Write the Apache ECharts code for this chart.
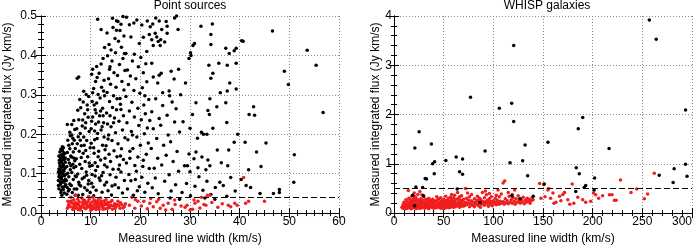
<!DOCTYPE html>
<html>
<head>
<meta charset="utf-8">
<script src="https://cdn.jsdelivr.net/npm/echarts@6/dist/echarts.min.js"></script>
<style>
  html, body { margin: 0; padding: 0; background: #fff; }
  #container { width: 696px; height: 250px; }
</style>
</head>
<body>
<div id="container"></div>
<script>
// limits of the two panels
var pointXMax = 60, pointYMax = 0.5, pointCut = 0.04;
var whispXMax = 300, whispYMax = 4, whispCut = 0.5;

// Point sources, above the cut (black)
var pointAbove = [
  [3.6,0.062],[3.8,0.071],[3.5,0.083],[3.9,0.090],[3.7,0.098],[4.0,0.105],[3.6,0.112],[3.8,0.120],[4.1,0.127],[3.7,0.134],
  [3.9,0.141],[4.2,0.148],[3.8,0.155],[4.0,0.162],[4.3,0.168],[4.1,0.058],[4.3,0.066],[4.0,0.075],[4.4,0.082],[4.2,0.093],
  [3.9,0.101],[4.4,0.109],[4.1,0.116],[4.5,0.123],[4.2,0.131],[4.4,0.138],[4.0,0.146],[4.6,0.153],[4.3,0.159],[4.5,0.166],
  [4.7,0.051],[4.5,0.060],[4.8,0.068],[4.6,0.078],[4.9,0.086],[4.7,0.095],[4.4,0.100],[4.8,0.113],[4.6,0.119],[4.9,0.129],
  [4.7,0.136],[4.5,0.144],[4.8,0.151],[3.5,0.070],[3.6,0.092],[3.5,0.104],[3.7,0.127],[3.6,0.145],[4.0,0.052],[4.2,0.045],
  [3.8,0.110],[4.3,0.118],[4.0,0.133],[4.1,0.087],[4.6,0.106],[5.0,0.072],[5.0,0.098],[4.9,0.140],[3.9,0.079],[4.2,0.140],
  [5.2,0.048],[5.5,0.056],[5.3,0.065],[5.8,0.074],[5.1,0.083],[5.6,0.092],[5.4,0.101],[5.9,0.110],[5.2,0.118],[5.7,0.127],
  [5.5,0.136],[6.0,0.145],[5.3,0.154],[5.8,0.163],[5.6,0.172],[5.4,0.185],[5.9,0.196],[5.3,0.225],[5.8,0.205],[6.2,0.225],
  [6.6,0.235],[6.3,0.052],[6.7,0.061],[6.1,0.070],[6.5,0.085],[6.9,0.094],[6.2,0.103],[6.6,0.115],[6.4,0.124],[6.8,0.133],
  [6.1,0.142],[6.5,0.155],[6.9,0.164],[6.3,0.176],[6.7,0.185],[6.2,0.198],[6.8,0.212],[6.4,0.190],[6.0,0.120],[5.7,0.060],
  [6.9,0.045],[6.6,0.140],
  [7.3,0.342],[7.6,0.345],[8.4,0.047],[7.2,0.061],[9.3,0.058],[8.0,0.069],[7.6,0.078],[9.6,0.083],[8.7,0.091],[7.4,0.099],
  [9.1,0.104],[8.2,0.113],[9.8,0.119],[7.8,0.124],[8.9,0.131],[7.1,0.138],[9.4,0.143],[8.5,0.152],[7.7,0.157],[9.9,0.166],
  [8.1,0.171],[7.3,0.176],[9.2,0.184],[8.6,0.193],[7.9,0.202],[9.7,0.207],[7.2,0.214],[8.3,0.221],[9.0,0.229],[7.6,0.237],
  [9.5,0.243],[8.8,0.252],[7.4,0.261],[8.0,0.267],[9.3,0.274],[8.5,0.282],[7.8,0.288],[9.6,0.296],[8.6,0.309],[9.1,0.301],
  [7.0,0.118],[8.3,0.087],[9.9,0.052],[7.5,0.045],[8.8,0.064],[9.0,0.159],[7.9,0.185],[8.4,0.236],[9.7,0.127],[7.1,0.092],
  [8.9,0.216],[9.4,0.262],[7.5,0.194],[8.1,0.141],[9.5,0.074],[7.7,0.072],[8.7,0.172],[9.2,0.096],
  [10.6,0.044],[12.3,0.053],[11.1,0.058],[12.8,0.071],[10.2,0.076],[11.7,0.089],[10.9,0.094],[12.5,0.103],[11.4,0.118],[10.3,0.121],
  [12.0,0.135],[12.9,0.139],[10.7,0.152],[11.6,0.157],[12.4,0.172],[10.1,0.177],[11.3,0.189],[12.7,0.193],[10.8,0.208],[12.1,0.211],
  [11.0,0.226],[12.6,0.229],[10.4,0.244],[11.8,0.247],[10.9,0.262],[12.4,0.266],[11.2,0.279],[10.3,0.283],[12.8,0.298],[11.5,0.301],
  [10.6,0.316],[12.2,0.319],[11.0,0.334],[12.7,0.337],[10.2,0.352],[11.7,0.355],[10.4,0.365],[11.2,0.372],[12.1,0.378],[12.5,0.392],
  [12.8,0.420],[11.4,0.492],[12.1,0.466],[11.9,0.083],[10.5,0.066],[12.2,0.095],[10.9,0.128],[11.5,0.143],[12.9,0.161],[10.6,0.166],
  [11.4,0.202],[12.3,0.219],[10.2,0.233],[11.1,0.254],[12.0,0.259],[10.7,0.274],[11.9,0.292],[10.4,0.305],[12.6,0.310],[11.3,0.344],
  [10.8,0.186],[12.5,0.247],[11.6,0.231],[10.1,0.214],[12.8,0.122],[11.0,0.108],[10.3,0.098],
  [14.2,0.046],[16.4,0.051],[13.5,0.057],[15.6,0.064],[14.9,0.072],[13.2,0.078],[16.8,0.083],[15.1,0.091],[13.9,0.097],[16.1,0.104],
  [14.5,0.111],[13.3,0.117],[15.8,0.122],[14.0,0.131],[16.6,0.136],[15.3,0.143],[13.7,0.149],[14.7,0.158],[16.2,0.163],[13.1,0.171],
  [15.5,0.176],[14.3,0.184],[16.9,0.191],[13.6,0.198],[15.0,0.204],[16.4,0.211],[14.1,0.219],[13.4,0.226],[15.7,0.233],[14.8,0.241],
  [16.6,0.247],[13.2,0.254],[15.2,0.262],[14.4,0.268],[16.0,0.276],[13.8,0.283],[15.9,0.291],[14.6,0.298],[13.3,0.306],[16.7,0.312],
  [15.1,0.319],[14.0,0.327],[16.3,0.334],[13.6,0.341],[15.4,0.349],[14.7,0.356],[16.9,0.362],[13.9,0.371],[15.8,0.377],[14.3,0.386],
  [16.5,0.392],[13.4,0.399],[15.0,0.407],[14.1,0.414],[16.2,0.421],[13.7,0.428],[15.6,0.436],[14.9,0.443],[16.7,0.449],[13.3,0.457],
  [15.2,0.464],[14.5,0.471],[16.1,0.479],[15.5,0.486],[14.4,0.494],[16.5,0.499],[15.9,0.463],[15.2,0.488],[16.0,0.145],[13.5,0.188],
  [14.6,0.229],[16.1,0.263],[13.9,0.247],[15.6,0.111],[14.3,0.069],[13.8,0.365],[16.8,0.405],[15.3,0.290],
  [18.6,0.045],[20.9,0.053],[17.4,0.061],[19.8,0.067],[21.5,0.076],[18.1,0.082],[20.3,0.091],[17.7,0.098],[19.2,0.106],[21.8,0.113],
  [18.9,0.121],[17.2,0.127],[20.6,0.134],[19.5,0.142],[21.2,0.149],[17.9,0.157],[18.5,0.164],[20.0,0.172],[21.6,0.178],[17.5,0.186],
  [19.3,0.193],[20.8,0.201],[18.2,0.207],[21.4,0.216],[19.7,0.222],[17.3,0.229],[20.2,0.237],[18.8,0.244],[21.0,0.252],[17.8,0.259],
  [19.5,0.266],[20.7,0.274],[18.3,0.281],[21.7,0.288],[17.1,0.296],[19.9,0.304],[18.7,0.311],[20.4,0.318],[17.6,0.326],[21.3,0.333],
  [19.1,0.341],[18.0,0.348],[20.6,0.356],[17.4,0.363],[19.6,0.371],[21.1,0.379],[18.4,0.386],[20.1,0.395],[17.1,0.405],[18.8,0.403],
  [19.8,0.430],[20.6,0.446],[21.8,0.453],[17.8,0.478],[18.7,0.482],[19.3,0.490],[20.3,0.477],[21.4,0.487],[18.1,0.447],[17.2,0.497],
  [21.3,0.410],[19.0,0.085],[20.5,0.118],[18.4,0.198],[21.9,0.235],[19.4,0.057],[17.9,0.139],[20.9,0.298],
  [23.6,0.049],[26.2,0.056],[22.4,0.064],[27.1,0.072],[24.9,0.081],[23.0,0.089],[25.8,0.097],[27.7,0.106],[22.8,0.114],[24.3,0.122],
  [26.6,0.131],[23.5,0.139],[25.2,0.147],[27.4,0.156],[22.2,0.164],[24.7,0.172],[26.1,0.181],[23.3,0.189],[25.6,0.198],[27.9,0.206],
  [22.6,0.214],[24.1,0.223],[26.9,0.231],[23.8,0.240],[25.4,0.248],[22.3,0.257],[27.2,0.265],[24.5,0.273],[26.4,0.282],[23.1,0.290],
  [25.9,0.298],[28.1,0.300],[22.6,0.345],[23.5,0.330],[24.5,0.305],[25.8,0.310],[26.2,0.360],[26.8,0.340],[27.7,0.365],[22.3,0.380],
  [23.8,0.350],[24.2,0.355],
  [22.0,0.473],[22.5,0.480],[23.1,0.495],[23.8,0.487],[24.3,0.466],[25.2,0.486],[25.4,0.474],[26.9,0.495],[27.3,0.500],[27.6,0.466],
  [22.3,0.440],[22.6,0.425],[23.0,0.456],[23.3,0.447],[23.6,0.435],[24.0,0.425],[24.1,0.440],[25.4,0.456],[24.9,0.434],[27.9,0.035],
  [26.0,0.038],
  [28.4,0.052],[29.3,0.075],[30.1,0.044],[31.0,0.068],[31.8,0.092],[32.6,0.058],[33.4,0.081],[34.2,0.047],[35.1,0.065],[36.0,0.078],
  [36.7,0.070],[37.4,0.043],[38.2,0.090],[39.1,0.056],[40.3,0.085],[41.3,0.070],[28.9,0.120],[29.5,0.120],[30.0,0.105],[30.8,0.138],
  [31.6,0.115],[32.4,0.142],[33.2,0.110],[33.6,0.135],[34.0,0.120],[35.5,0.160],[36.3,0.128],[37.6,0.120],[37.8,0.160],[38.9,0.180],
  [41.1,0.180],[41.8,0.110],[29.8,0.150],[31.2,0.155],[32.7,0.200],[34.6,0.215],[33.4,0.200],[32.3,0.205],[30.0,0.215],[28.6,0.232],
  [37.4,0.230],[39.6,0.200],[30.5,0.250],[33.6,0.260],[33.9,0.250],[35.4,0.270],[37.2,0.280],[31.2,0.280],[34.0,0.290],[36.1,0.305],
  [37.5,0.310],[39.3,0.315],[33.8,0.375],[34.2,0.342],[34.6,0.355],[35.8,0.380],[37.5,0.375],[38.0,0.330],[29.8,0.392],[30.2,0.400],
  [30.6,0.425],[30.9,0.430],[30.1,0.407],[34.2,0.428],[37.2,0.418],[37.9,0.405],[38.9,0.412],[39.3,0.418],[39.3,0.380],[32.2,0.474],
  [34.5,0.480],[34.2,0.453],[40.4,0.437],[40.7,0.436],[29.1,0.330],[31.5,0.190],[35.0,0.035],[33.0,0.038],
  [41.9,0.250],[42.2,0.065],[42.8,0.270],[43.0,0.248],[43.4,0.155],[44.1,0.050],[44.3,0.118],[45.3,0.178],[46.6,0.462],[46.8,0.050],
  [48.0,0.060],[48.0,0.052],[49.0,0.360],[49.8,0.326],[50.9,0.078],[51.0,0.148],[53.6,0.413],[55.4,0.375],[56.8,0.255]
];

// Point sources, below the cut (red)
var pointBelow = [
  [5.3,0.012],[5.6,0.022],[5.9,0.016],[6.1,0.031],[6.4,0.009],[6.7,0.019],[6.9,0.027],[7.2,0.013],[7.4,0.035],[7.6,0.021],
  [7.9,0.008],[8.1,0.017],[8.3,0.026],[8.6,0.014],[8.8,0.032],[9.0,0.011],[9.3,0.020],[9.5,0.029],[9.8,0.015],[10.0,0.024],
  [10.2,0.009],[10.5,0.018],[10.7,0.033],[10.9,0.013],[11.2,0.022],[11.4,0.028],[11.7,0.010],[11.9,0.019],[12.2,0.025],[12.4,0.015],
  [12.7,0.031],[12.9,0.011],[13.2,0.021],[13.5,0.027],[13.8,0.014],[14.1,0.019],[14.4,0.010],[14.8,0.024],[15.1,0.016],[15.5,0.030],
  [15.9,0.012],[16.3,0.021],[16.8,0.017],[6.0,0.040],[7.0,0.045],[8.2,0.038],[9.6,0.042],[10.4,0.040],[12.0,0.038],[5.5,0.018],
  [6.3,0.025],[7.7,0.029],[8.9,0.023],[10.1,0.016],[11.0,0.027],[11.6,0.015],[12.6,0.020],[13.4,0.012],[14.6,0.018],[6.8,0.012],
  [7.3,0.024],[8.4,0.019],[9.2,0.027],[9.9,0.021],[10.6,0.012],[11.3,0.017],[12.1,0.030],[13.0,0.025],[14.0,0.028],[15.3,0.022],
  [16.0,0.026],[5.8,0.028],[6.5,0.015],[7.1,0.020],[8.0,0.013],[8.7,0.028],[9.4,0.016],[10.3,0.028],[10.8,0.022],[11.8,0.024],
  [12.5,0.010],[13.6,0.019],[14.3,0.032],[15.7,0.019],[16.5,0.013],[17.0,0.024],[7.8,0.016],[9.1,0.013],[10.9,0.031],[12.3,0.018],
  [8.5,0.034],[11.5,0.034],[6.6,0.034],[9.7,0.035],[13.1,0.034],[5.4,0.030],[14.9,0.012],[10.0,0.007],[7.5,0.009],[12.8,0.023],
  [11.1,0.009],
  [17.8,0.020],[18.3,0.040],[18.9,0.012],[19.5,0.030],[20.2,0.018],[20.7,0.030],[21.4,0.011],[21.9,0.025],[22.6,0.016],[23.3,0.029],
  [23.7,0.035],[24.0,0.012],[24.6,0.020],[25.1,0.008],[25.6,0.025],[26.4,0.010],[27.0,0.022],[28.2,0.018],[29.0,0.015],[29.4,0.020],
  [30.0,0.008],[30.5,0.010],[31.0,0.025],[31.6,0.030],[32.0,0.013],[32.3,0.040],[32.8,0.022],[33.2,0.020],[33.5,0.045],[34.0,0.045],
  [34.4,0.027],[35.6,0.015],[36.5,0.024],[37.7,0.020],[39.0,0.025],[39.5,0.020],[40.8,0.090],[41.2,0.025],[41.8,0.030],[45.0,0.030],
  [19.0,0.034],[22.1,0.037],[26.9,0.033],[30.8,0.033],[38.2,0.016]
];

// WHISP galaxies, above the cut (black)
var whispAbove = [
  [257,3.92],[264,3.53],[120.5,3.40],[77,2.35],[106,2.13],[118.5,2.23],[120.5,1.86],[25.3,1.65],[190,1.94],[185.5,1.71],
  [293.5,2.09],[21,1.32],[37.6,1.40],[91.7,1.26],[132,1.38],[155,1.44],[216.5,1.31],[116.8,1.02],[129.5,1.06],[134.5,0.76],
  [52.2,1.07],[62.6,1.14],[69,1.10],[38.9,1.00],[40.9,1.04],[40.5,0.80],[31.4,0.70],[32.8,0.69],[66,0.84],[69,0.79],
  [183.5,0.92],[186.5,0.80],[202,0.71],[281,0.62],[282,0.90],[293.5,0.99],[295,0.75],[267,0.77],[22,0.53],[28.8,0.52],
  [151.3,0.59],[191.5,0.52],[193,0.56],[201.5,0.47],[183,0.44],[118.8,0.35],[126.8,0.29],[140.2,0.34],[86.6,0.22],[20.8,0.15],
  [63.6,0.49],[29.7,0.35],[18.8,0.36]
];

// WHISP galaxies, below the cut (red)
var whispBelow = [
  [8,0.12],[9,0.10],[10,0.15],[10,0.22],[11,0.13],[12,0.18],[12,0.09],[13,0.25],[13,0.14],[14,0.11],
  [14,0.20],[14.4,0.46],[15,0.16],[15,0.30],[16,0.12],[16,0.23],[17,0.09],[17,0.18],[17,0.27],[18,0.14],
  [18,0.21],[18,0.34],[19,0.11],[19,0.16],[19,0.26],[20,0.19],[20,0.13],[20.4,0.41],[20,0.29],[11,0.20],
  [13,0.10],[15,0.22],[16,0.17],[18,0.10],[19,0.22],[9,0.17],[12,0.27],[10,0.11],
  [21,0.12],[21,0.24],[22,0.17],[22,0.09],[22,0.31],[23,0.14],[23,0.21],[24,0.11],[24,0.27],[24,0.38],
  [25,0.16],[25,0.20],[26,0.13],[26,0.24],[26,0.44],[27,0.10],[27,0.18],[27,0.29],[28,0.15],[28,0.22],
  [29,0.12],[29,0.26],[30,0.19],[30,0.14],[30,0.33],[31,0.10],[31,0.22],[32,0.17],[32,0.28],[33,0.13],
  [33,0.20],[34,0.24],[34,0.11],[35,0.16],[35,0.30],[36,0.21],[36,0.13],[37,0.18],[37,0.26],[38,0.12],
  [38,0.22],[39,0.15],[39,0.28],[40,0.19],[40,0.10],[21,0.33],[23,0.27],[25,0.10],[28,0.37],[31,0.15],
  [33,0.27],[35,0.09],[37,0.14],[39,0.21],[26,0.19],[29,0.18],[32,0.12],[34,0.19],[36,0.27],[38,0.17],
  [40,0.25],
  [41,0.14],[41,0.23],[42,0.18],[42,0.11],[43,0.26],[43,0.15],[44,0.20],[44,0.12],[45,0.17],[45,0.29],
  [46,0.13],[46,0.22],[47,0.19],[47,0.10],[48,0.25],[48,0.15],[49,0.12],[49,0.21],[50,0.18],[50,0.28],
  [51,0.14],[51,0.23],[52,0.11],[52,0.19],[53,0.26],[53,0.16],[54,0.13],[54,0.22],[55,0.18],[55,0.30],
  [56,0.15],[56,0.24],[57,0.12],[57,0.20],[58,0.27],[58,0.17],[59,0.14],[59,0.23],[60,0.19],[60,0.31],
  [61,0.16],[61,0.25],[62,0.13],[62,0.21],[63,0.28],[63,0.18],[64,0.42],[64,0.15],[65,0.23],[65,0.30],
  [66,0.19],[66,0.12],[67,0.26],[67,0.16],[68,0.21],[68,0.35],[69,0.14],[69,0.24],[70,0.18],[70,0.28],
  [72,0.50],[43,0.33],[47,0.31],[52,0.34],[57,0.32],[61,0.36],[44,0.25],[50,0.09],[55,0.11],[60,0.12],
  [66,0.33],[58,0.38],
  [71,0.15],[72,0.22],[73,0.30],[73,0.17],[74,0.41],[75,0.20],[75,0.26],[76,0.13],[77,0.19],[78,0.25],
  [78,0.38],[79,0.16],[80,0.22],[81,0.29],[81,0.13],[82,0.20],[83,0.18],[84,0.26],[84,0.34],[85,0.15],
  [86,0.21],[87,0.12],[87,0.28],[88,0.18],[89,0.24],[89,0.42],[90,0.20],[91,0.16],[91,0.31],[92,0.23],
  [93,0.19],[93,0.37],[94,0.26],[95,0.21],[95,0.14],[96,0.29],[97,0.18],[97,0.24],[98,0.33],[99,0.20],
  [99,0.15],[100,0.25],[76,0.33],[80,0.16],[86,0.30],[92,0.45],[96,0.40],[83,0.24],
  [101,0.19],[102,0.30],[102,0.22],[103,0.17],[104,0.26],[104.7,0.47],[105,0.21],[106,0.33],[106,0.18],[107,0.24],
  [108,0.20],[108,0.39],[109.8,0.61],[110,0.23],[111.4,0.65],[111,0.18],[112,0.29],[113,0.21],[114,0.25],[115,0.19],
  [116,0.34],[117,0.22],[118,0.27],[119,0.20],[120,0.31],[121.5,0.47],[121,0.24],[122,0.18],[123,0.29],[124,0.22],
  [125,0.35],[126,0.25],[127,0.20],[128,0.28],[129,0.23],[130,0.32],[131,0.19],[132,0.26],[133,0.22],[134,0.30],
  [135,0.24],[136,0.28],[137,0.20],[138,0.25],[139,0.31],[140,0.27],[115,0.42],[103,0.36],[119,0.38],
  [146.6,0.60],[150.6,0.58],[155,0.47],[155.6,0.50],[160,0.41],[152,0.33],[157.6,0.30],[163,0.22],[166.7,0.34],[170,0.38],
  [171.7,0.42],[175,0.27],[168,0.25],[179.4,0.59],[185,0.32],[181,0.20],[190,0.27],[193,0.22],[200.8,0.41],[203,0.37],
  [206,0.30],[216.9,0.37],[219.5,0.37],[223.6,0.26],[221.9,0.26],[228,0.67],[238.6,0.42],[244.3,0.49],[252,0.29],[255.3,0.39],
  [262,0.81],[148,0.30],[161,0.20],[177,0.18],[198,0.24],[210,0.35]
];

var fontFamily = '"Liberation Sans", Arial, Helvetica, sans-serif';
var ink = '#000';

function bottomAxis(grid, max, step, minorSplit, name, alignLast) {
  return {
    gridIndex: grid, type: 'value', min: 0, max: max, interval: step,
    name: name, nameLocation: 'middle', nameGap: 18,
    nameTextStyle: { color: ink, fontSize: 12, fontFamily: fontFamily },
    axisLine: { lineStyle: { color: ink, width: 1 } },
    axisTick: { inside: true, length: 5, lineStyle: { color: ink } },
    minorTick: { show: true, splitNumber: minorSplit, length: 3, lineStyle: { color: ink } },
    axisLabel: { color: ink, fontSize: 12, fontFamily: fontFamily, margin: 3,
      alignMaxLabel: alignLast ? 'right' : null },
    splitLine: { show: true, lineStyle: { color: '#8c8c8c', type: [1, 2], width: 1 } }
  };
}
function topAxis(grid, max, step, minorSplit) {
  return {
    gridIndex: grid, type: 'value', position: 'top', min: 0, max: max, interval: step,
    axisLine: { lineStyle: { color: ink, width: 1 } },
    axisTick: { inside: true, length: 5, lineStyle: { color: ink } },
    minorTick: { show: true, splitNumber: minorSplit, length: 3, lineStyle: { color: ink } },
    axisLabel: { show: false }, splitLine: { show: false }
  };
}
function leftAxis(grid, max, step, digits, nameGap, margin) {
  return {
    gridIndex: grid, type: 'value', min: 0, max: max, interval: step,
    name: 'Measured integrated flux (Jy km/s)', nameLocation: 'middle', nameGap: nameGap,
    nameTextStyle: { color: ink, fontSize: 12, fontFamily: fontFamily },
    axisLine: { show: true, lineStyle: { color: ink, width: 1 } },
    axisTick: { show: true, inside: true, length: 5, lineStyle: { color: ink } },
    minorTick: { show: true, splitNumber: 5, length: 3, lineStyle: { color: ink } },
    axisLabel: { color: ink, fontSize: 12, fontFamily: fontFamily, margin: margin,
      formatter: function (v) { return v.toFixed(digits); } },
    splitLine: { show: true, lineStyle: { color: '#8c8c8c', type: [1, 2], width: 1 } }
  };
}
function rightAxis(grid, max, step) {
  return {
    gridIndex: grid, type: 'value', position: 'right', min: 0, max: max, interval: step,
    axisLine: { show: true, lineStyle: { color: ink, width: 1 } },
    axisTick: { show: true, inside: true, length: 5, lineStyle: { color: ink } },
    minorTick: { show: true, splitNumber: 5, length: 3, lineStyle: { color: ink } },
    axisLabel: { show: false }, splitLine: { show: false }
  };
}
function cutLine(value) {
  return {
    silent: true, symbol: 'none', label: { show: false },
    lineStyle: { color: ink, type: [6, 3], width: 1 },
    data: [{ yAxis: value }]
  };
}

var myChart = echarts.init(document.getElementById('container'));
var option = {
  animation: false,
  backgroundColor: '#fff',
  title: [
    { text: 'Point sources', left: 190, top: 0, padding: 0, textAlign: 'center',
      textStyle: { fontSize: 12, fontWeight: 'normal', color: ink, fontFamily: fontFamily } },
    { text: 'WHISP galaxies', left: 547, top: 0, padding: 0, textAlign: 'center',
      textStyle: { fontSize: 12, fontWeight: 'normal', color: ink, fontFamily: fontFamily } }
  ],
  grid: [
    { left: 41, right: 357, top: 16, bottom: 35 },
    { left: 394, right: 4, top: 16, bottom: 35 }
  ],
  xAxis: [
    bottomAxis(0, pointXMax, 10, 6, 'Measured line width (km/s)', false),
    topAxis(0, pointXMax, 10, 6),
    bottomAxis(1, whispXMax, 50, 5, 'Measured line width (km/s)', true),
    topAxis(1, whispXMax, 50, 5)
  ],
  yAxis: [
    leftAxis(0, pointYMax, 0.1, 1, 27, 4),
    rightAxis(0, pointYMax, 0.1),
    leftAxis(1, whispYMax, 1, 0, 12, 2),
    rightAxis(1, whispYMax, 1)
  ],
  series: [
    { type: 'scatter', xAxisIndex: 0, yAxisIndex: 0, data: pointAbove,
      symbolSize: 3.5, itemStyle: { color: '#000', opacity: 1 } },
    { type: 'scatter', xAxisIndex: 0, yAxisIndex: 0, data: pointBelow,
      symbolSize: 3.5, itemStyle: { color: '#f01e1e', opacity: 1 }, markLine: cutLine(pointCut) },
    { type: 'scatter', xAxisIndex: 2, yAxisIndex: 2, data: whispBelow,
      symbolSize: 3.5, itemStyle: { color: '#f01e1e', opacity: 1 }, markLine: cutLine(whispCut) },
    { type: 'scatter', xAxisIndex: 2, yAxisIndex: 2, data: whispAbove,
      symbolSize: 3.5, itemStyle: { color: '#000', opacity: 1 } }
  ]
};
myChart.setOption(option);
window.onresize = function () { myChart.resize(); };
</script>
</body>
</html>
